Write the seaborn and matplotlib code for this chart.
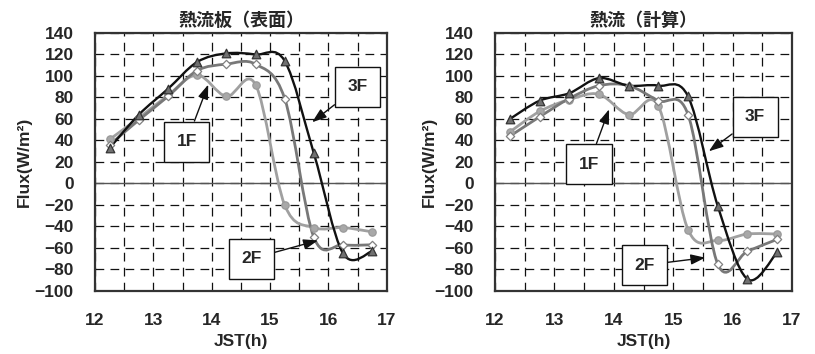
import matplotlib
matplotlib.use("Agg")
import matplotlib.pyplot as plt
import numpy as np
import pandas as pd
import seaborn as sns
from matplotlib.patches import PathPatch
from matplotlib.path import Path

# time of each observation (h, JST)
hours = [12.25, 12.75, 13.25, 13.75, 14.25, 14.75, 15.25, 15.75, 16.25, 16.75]

# heat flux plate (surface) readings
plate_1f = [41, 61, 82, 101, 81, 92, -20, -41, -41, -45]
plate_2f = [36, 59, 81, 105, 111, 111, 79, -50, -57, -57]
plate_3f = [33, 64, 88, 113, 121, 120, 114, 28, -65, -63]

# calculated heat flux
calc_1f = [48, 67, 78, 83, 64, 72, -43, -53, -47, -47]
calc_2f = [44, 62, 79, 91, 91, 77, 64, -75, -63, -52]
calc_3f = [60, 77, 84, 98, 91, 91, 81, -21, -89, -64]

floors = ["1F", "2F", "3F"]

sns.set_theme(style="white")
plt.rcParams["font.family"] = ["Liberation Sans", "Noto Sans CJK JP", "DejaVu Sans"]
plt.rcParams["font.weight"] = "bold"
plt.rcParams["axes.labelweight"] = "bold"
plt.rcParams["axes.titleweight"] = "bold"

# line colour, line width, marker, marker face, marker edge
STYLES = {
    "1F": dict(color="#a0a0a0", lw=2.0, marker="o", fc="#a8a8a8", ec="#9a9a9a", s=28),
    "2F": dict(color="#787878", lw=2.0, marker="D", fc="white", ec="#808080", s=18),
    "3F": dict(color="#111111", lw=1.7, marker="^", fc="#707070", ec="#333333", s=38),
}


def smooth_path(x, y):
    # excel-like smoothed line: catmull-rom segments drawn as cubic beziers
    pts = np.column_stack([x, y]).astype(float)
    ext = np.vstack([pts[0], pts, pts[-1]])
    verts = [pts[0]]
    codes = [Path.MOVETO]
    for i in range(1, len(ext) - 2):
        p0, p1, p2, p3 = ext[i - 1], ext[i], ext[i + 1], ext[i + 2]
        verts += [p1 + (p2 - p0) / 6, p2 - (p3 - p1) / 6, p2]
        codes += [Path.CURVE4] * 3
    return Path(verts, codes)


def draw_panel(ax, title, series, boxes):
    df = pd.DataFrame({"hour": hours, **dict(zip(floors, series))})
    long = df.melt(id_vars="hour", var_name="floor", value_name="flux")
    for floor in floors:
        st = STYLES[floor]
        sub = long[long["floor"] == floor]
        ax.add_patch(PathPatch(smooth_path(sub["hour"], sub["flux"]),
                               fill=False, ec=st["color"], lw=st["lw"], zorder=3))
        sns.scatterplot(data=sub, x="hour", y="flux", ax=ax, marker=st["marker"],
                        color=st["fc"], edgecolor=st["ec"], linewidth=0.9,
                        s=st["s"], zorder=4, legend=False)

    ax.set_xlim(12, 17)
    ax.set_ylim(-100, 140)
    ax.set_xticks(range(12, 18))
    ax.set_xticks(np.arange(12.5, 17, 1.0), minor=True)
    ax.set_yticks(range(-100, 141, 20))
    ax.grid(True, which="both", axis="x", color="#111111", lw=0.9, ls=(0, (7, 5)))
    ax.grid(True, which="major", axis="y", color="#111111", lw=0.9, ls=(0, (7, 5)))
    ax.set_axisbelow(True)
    ax.axhline(0, color="#555555", lw=1.0, zorder=2)
    for sp in ax.spines.values():
        sp.set_color("#333333")
        sp.set_linewidth(1.6)

    ax.tick_params(axis="both", which="both", length=0, labelsize=12.5)
    ax.tick_params(axis="x", pad=16)
    ax.tick_params(axis="y", pad=15.5)
    ax.set_xlabel("JST(h)", fontsize=12.5)
    ax.set_ylabel("Flux(W/m²)", fontsize=12.5)
    ax.xaxis.set_label_coords(0.5, -0.165)
    ax.set_title(title, fontsize=13, pad=5)

    for label, (tx, ty), (ax_, ay_) in boxes:
        ax.annotate(label, xy=(ax_, ay_), xytext=(tx, ty), fontsize=12.5,
                    ha="center", va="center", zorder=6,
                    bbox=dict(boxstyle="square,pad=0.72", fc="white", ec="#111111", lw=1.0),
                    arrowprops=dict(arrowstyle="-|>,head_length=0.7,head_width=0.25",
                                    color="#111111", lw=1.0, shrinkA=0, shrinkB=0))


fig = plt.figure(figsize=(8.15, 3.54), dpi=100)
ax1 = fig.add_axes([0.1166, 0.178, 0.358, 0.7288])
ax2 = fig.add_axes([0.6074, 0.178, 0.3644, 0.7288])

draw_panel(ax1, "熱流板（表面）", [plate_1f, plate_2f, plate_3f],
           [("1F", (13.57, 39), (13.94, 92)),
            ("2F", (14.68, -70), (15.82, -53)),
            ("3F", (16.5, 90), (15.72, 57))])
draw_panel(ax2, "熱流（計算）", [calc_1f, calc_2f, calc_3f],
           [("1F", (13.58, 18), (13.92, 69)),
            ("2F", (14.52, -76), (15.54, -69)),
            ("3F", (16.38, 62), (15.6, 30))])

ax1.yaxis.set_label_coords(-0.215, 0.5)
ax2.yaxis.set_label_coords(-0.196, 0.5)

fig.savefig("out.png", dpi=100)
